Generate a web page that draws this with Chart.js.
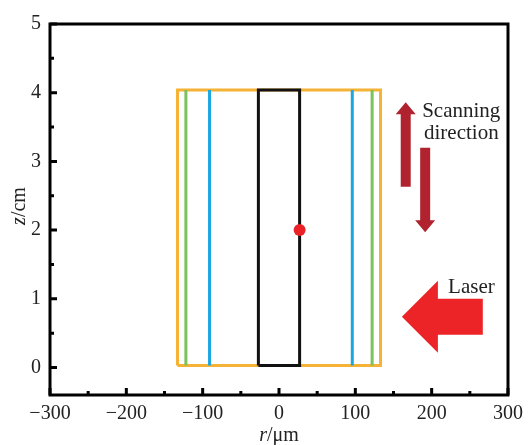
<!DOCTYPE html>
<html>
<head>
<meta charset="utf-8">
<script src="https://cdn.jsdelivr.net/npm/chart.js@4.4.1/dist/chart.umd.min.js"></script>
<style>
  html, body { margin: 0; padding: 0; background: #fff; }
  #wrap { width: 530px; height: 445px; }
</style>
</head>
<body>
<div id="wrap"><canvas id="beamChart"></canvas></div>
<script>
// axis ticks
const rTicks = [-300, -200, -100, 0, 100, 200, 300];
const zTicks = [0, 1, 2, 3, 4, 5];
const rMinor = [-250, -150, -50, 50, 150, 250];
const zMinor = [0.5, 1.5, 2.5, 3.5, 4.5];

// radial extents (um) of the drawn regions, and their height (cm)
const outerR = [-133, 133];
const greenR = [-122, 122];
const blueR = [-91, 96];
const coreR = [-27, 27];
const regionZ = [0.03, 4.04];
const focusPoint = [27, 2];

// arrows: [r, z] of tail and tip
const scanUp = [[166, 2.63], [166, 3.86]];
const scanDown = [[191.5, 3.2], [191.5, 1.97]];
const laserArrow = [[267, 0.74], [161, 0.74]];

const serif = '"Liberation Serif", "Times New Roman", serif';

function box(rs, zs) {
    return [
        {x: rs[0], y: zs[0]}, {x: rs[1], y: zs[0]},
        {x: rs[1], y: zs[1]}, {x: rs[0], y: zs[1]},
        {x: rs[0], y: zs[0]}
    ];
}

function vline(r, zs) {
    return [{x: r, y: zs[0]}, {x: r, y: zs[1]}];
}

function lineSet(data, color) {
    return {
        data: data,
        showLine: true,
        borderColor: color,
        borderWidth: 3,
        pointRadius: 0,
        fill: false
    };
}

const datasets = [
    lineSet(box(outerR, regionZ), '#f6b234'),
    lineSet(vline(greenR[0], regionZ), '#7cc25a'),
    lineSet(vline(greenR[1], regionZ), '#7cc25a'),
    lineSet(vline(blueR[0], regionZ), '#1ba7e1'),
    lineSet(vline(blueR[1], regionZ), '#1ba7e1'),
    lineSet(box(coreR, regionZ), '#111111'),
    {
        data: [{x: focusPoint[0], y: focusPoint[1]}],
        pointRadius: 6,
        pointBackgroundColor: '#ea2127',
        pointBorderWidth: 0,
        showLine: false
    }
];
// later sets are drawn on top
datasets.forEach((d, i) => { d.order = datasets.length - i; });

// block arrow drawn in pixel space from data endpoints
function drawArrow(ctx, xs, ys, a, shaftW, headW, headL, color) {
    const x0 = xs.getPixelForValue(a[0][0]), y0 = ys.getPixelForValue(a[0][1]);
    const x1 = xs.getPixelForValue(a[1][0]), y1 = ys.getPixelForValue(a[1][1]);
    const len = Math.hypot(x1 - x0, y1 - y0);
    ctx.save();
    ctx.translate(x0, y0);
    ctx.rotate(Math.atan2(y1 - y0, x1 - x0));
    ctx.beginPath();
    ctx.moveTo(0, -shaftW / 2);
    ctx.lineTo(len - headL, -shaftW / 2);
    ctx.lineTo(len - headL, -headW / 2);
    ctx.lineTo(len, 0);
    ctx.lineTo(len - headL, headW / 2);
    ctx.lineTo(len - headL, shaftW / 2);
    ctx.lineTo(0, shaftW / 2);
    ctx.closePath();
    ctx.fillStyle = color;
    ctx.fill();
    ctx.restore();
}

const framePlugin = {
    id: 'frame',
    afterDatasetsDraw(chart) {
        const {ctx, chartArea: a, scales: {x, y}} = chart;

        drawArrow(ctx, x, y, scanUp, 10, 20, 12, '#b0232e');
        drawArrow(ctx, x, y, scanDown, 10, 20, 12, '#b0232e');
        drawArrow(ctx, x, y, laserArrow, 36, 72, 36, '#ec2428');

        ctx.save();
        ctx.fillStyle = '#222';
        ctx.font = '21px ' + serif;
        ctx.textAlign = 'left';
        ctx.textBaseline = 'alphabetic';
        ctx.fillText('Scanning', x.getPixelForValue(187.5), y.getPixelForValue(3.65));
        ctx.fillText('direction', x.getPixelForValue(190), y.getPixelForValue(3.32));
        ctx.fillText('Laser', x.getPixelForValue(221.5), y.getPixelForValue(1.09));

        // frame
        ctx.strokeStyle = '#000';
        ctx.lineWidth = 3;
        ctx.strokeRect(a.left, a.top, a.right - a.left, a.bottom - a.top);

        // inward ticks
        ctx.lineWidth = 3;
        ctx.beginPath();
        rTicks.forEach(v => {
            const px = x.getPixelForValue(v);
            ctx.moveTo(px, a.bottom); ctx.lineTo(px, a.bottom - 7);
        });
        rMinor.forEach(v => {
            const px = x.getPixelForValue(v);
            ctx.moveTo(px, a.bottom); ctx.lineTo(px, a.bottom - 4);
        });
        zTicks.forEach(v => {
            const py = y.getPixelForValue(v);
            ctx.moveTo(a.left, py); ctx.lineTo(a.left + 7, py);
        });
        zMinor.forEach(v => {
            const py = y.getPixelForValue(v);
            ctx.moveTo(a.left, py); ctx.lineTo(a.left + 4, py);
        });
        ctx.stroke();

        // axis titles with italic variable
        ctx.fillStyle = '#222';
        ctx.textAlign = 'left';
        const cx = (a.left + a.right) / 2;
        ctx.font = 'italic 20px ' + serif;
        const wr = ctx.measureText('r').width;
        ctx.font = '20px ' + serif;
        const wu = ctx.measureText('/\u03bcm').width;
        let sx = cx - (wr + wu) / 2;
        ctx.font = 'italic 20px ' + serif;
        ctx.fillText('r', sx, 441);
        ctx.font = '20px ' + serif;
        ctx.fillText('/\u03bcm', sx + wr, 441);

        ctx.translate(25, 206);
        ctx.rotate(-Math.PI / 2);
        ctx.font = 'italic 20px ' + serif;
        const wz = ctx.measureText('z').width;
        ctx.font = '20px ' + serif;
        const wc = ctx.measureText('/cm').width;
        sx = -(wz + wc) / 2;
        ctx.font = 'italic 20px ' + serif;
        ctx.fillText('z', sx, 0);
        ctx.font = '20px ' + serif;
        ctx.fillText('/cm', sx + wz, 0);
        ctx.restore();
    }
};

const tickFont = {family: serif, size: 20};
const minus = v => String(v).replace('-', '\u2212');

new Chart(document.getElementById('beamChart'), {
    type: 'scatter',
    data: {datasets: datasets},
    options: {
        responsive: true,
        maintainAspectRatio: false,
        animation: false,
        layout: {padding: {top: 24, right: 21, left: 0, bottom: 0}},
        plugins: {legend: {display: false}, tooltip: {enabled: false}},
        scales: {
            x: {
                min: -300, max: 300,
                grid: {display: false, drawTicks: false},
                border: {display: false},
                afterBuildTicks: s => { s.ticks = rTicks.map(v => ({value: v})); },
                afterFit: s => { s.height = 50; },
                ticks: {font: tickFont, color: '#222', padding: 7, maxRotation: 0, callback: minus}
            },
            y: {
                min: -0.4, max: 5,
                grid: {display: false, drawTicks: false},
                border: {display: false},
                afterBuildTicks: s => { s.ticks = zTicks.map(v => ({value: v})); },
                afterFit: s => { s.width = 50; },
                ticks: {font: tickFont, color: '#222', padding: 9, callback: minus}
            }
        }
    },
    plugins: [framePlugin]
});
</script>
</body>
</html>
